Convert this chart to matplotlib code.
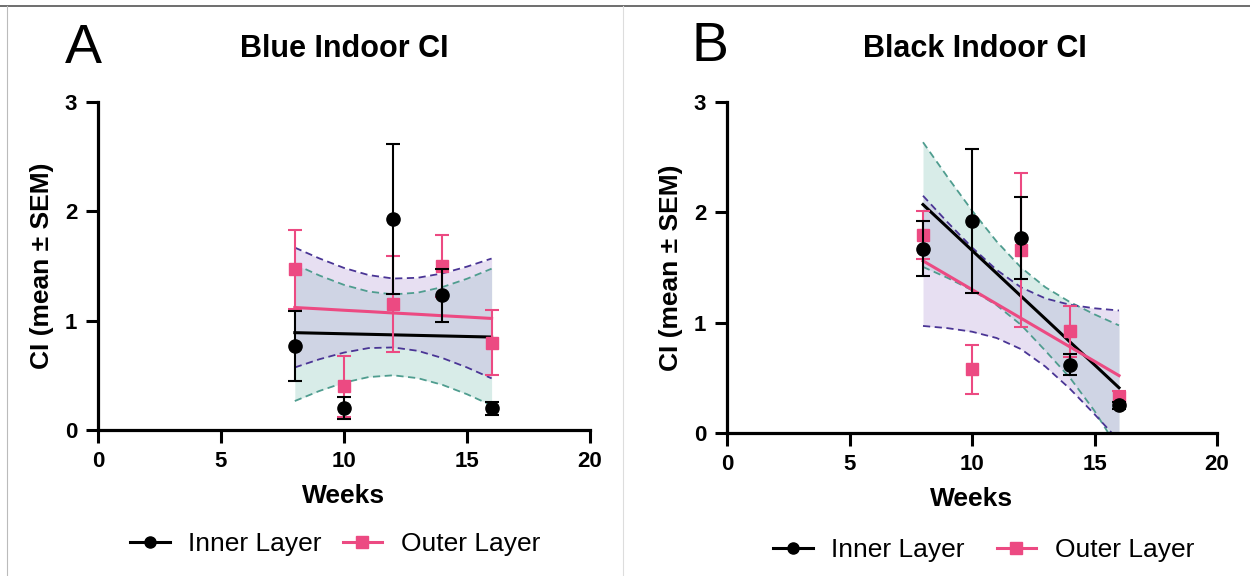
import numpy as np
import matplotlib
matplotlib.use('Agg')
import matplotlib.pyplot as plt
from matplotlib.lines import Line2D

# ---- data ----
weeks = [8, 10, 12, 14, 16]
fit_weeks = [8, 9, 10, 11, 12, 13, 14, 15, 16]

# panel A: Blue Indoor CI
blue_inner_mean = [0.77, 0.20, 1.93, 1.23, 0.20]
blue_inner_sem = [0.32, 0.10, 0.69, 0.24, 0.06]
blue_outer_mean = [1.47, 0.40, 1.15, 1.50, 0.80]
blue_outer_sem = [0.36, 0.28, 0.44, 0.28, 0.30]
blue_inner_fit = [0.89, 0.885, 0.88, 0.875, 0.87, 0.865, 0.86, 0.855, 0.85]
blue_inner_lo = [0.265, 0.357, 0.433, 0.484, 0.50, 0.474, 0.413, 0.327, 0.225]
blue_inner_hi = [1.515, 1.413, 1.327, 1.266, 1.24, 1.256, 1.307, 1.383, 1.475]
blue_outer_fit = [1.12, 1.108, 1.095, 1.083, 1.07, 1.058, 1.045, 1.033, 1.02]
blue_outer_lo = [0.572, 0.647, 0.708, 0.749, 0.755, 0.724, 0.658, 0.572, 0.472]
blue_outer_hi = [1.668, 1.569, 1.482, 1.417, 1.385, 1.392, 1.432, 1.494, 1.568]

# panel B: Black Indoor CI
black_inner_mean = [1.67, 1.92, 1.765, 0.62, 0.25]
black_inner_sem = [0.25, 0.65, 0.37, 0.095, 0.03]
black_outer_mean = [1.795, 0.577, 1.66, 0.92, 0.33]
black_outer_sem = [0.22, 0.22, 0.70, 0.23, 0.05]
black_inner_fit = [2.07, 1.863, 1.655, 1.448, 1.24, 1.033, 0.825, 0.618, 0.41]
black_inner_lo = [1.505, 1.406, 1.294, 1.159, 0.98, 0.744, 0.50, 0.20, -0.155]
black_inner_hi = [2.635, 2.32, 2.016, 1.737, 1.50, 1.32, 1.186, 1.075, 0.975]
black_outer_fit = [1.56, 1.43, 1.30, 1.17, 1.04, 0.91, 0.78, 0.65, 0.52]
black_outer_lo = [0.97, 0.95, 0.918, 0.861, 0.76, 0.601, 0.40, 0.17, -0.07]
black_outer_hi = [2.15, 1.91, 1.682, 1.479, 1.32, 1.219, 1.162, 1.13, 1.11]

panel_letters = ['A', 'B']
titles = ['Blue Indoor CI', 'Black Indoor CI']
series_labels = ['Inner Layer', 'Outer Layer']
x_ticks = [0, 5, 10, 15, 20]
y_ticks = [0, 1, 2, 3]

PINK = '#ec4a82'
TEAL = '#4f9d8f'
PURPLE = '#4a3595'
TEAL_FILL = '#9ed1c6'
PURPLE_FILL = '#c3b1e0'

plt.rcParams['font.family'] = ['Liberation Sans', 'DejaVu Sans']


def draw_panel(ax, inner, outer):
    (im, ise, ifit, ilo, ihi) = inner
    (om, ose, ofit, olo, ohi) = outer

    ax.fill_between(fit_weeks, ilo, ihi, color=TEAL_FILL, alpha=0.4, lw=0, zorder=1)
    ax.fill_between(fit_weeks, olo, ohi, color=PURPLE_FILL, alpha=0.4, lw=0, zorder=1)
    for lo, hi, c in [(ilo, ihi, TEAL), (olo, ohi, PURPLE)]:
        ax.plot(fit_weeks, lo, ls=(0, (4, 2.5)), color=c, lw=1.3, zorder=2)
        ax.plot(fit_weeks, hi, ls=(0, (4, 2.5)), color=c, lw=1.3, zorder=2)

    ax.plot(fit_weeks, ifit, color='black', lw=2.2, zorder=3)
    ax.plot(fit_weeks, ofit, color=PINK, lw=2.2, zorder=3)

    ax.errorbar(weeks, om, yerr=ose, fmt='s', color=PINK, ms=8.8, capsize=5,
                elinewidth=1.5, capthick=1.5, zorder=4)
    ax.errorbar(weeks, im, yerr=ise, fmt='o', color='black', ms=9.5, capsize=5,
                elinewidth=1.5, capthick=1.5, zorder=5)

    ax.set_xlim(0, 20)
    ax.set_ylim(0, 3)
    ax.set_xticks(x_ticks)
    ax.set_yticks(y_ticks)
    for s in ['top', 'right']:
        ax.spines[s].set_visible(False)
    for s in ['left', 'bottom']:
        ax.spines[s].set_linewidth(2.3)
    ax.tick_params(width=2.2, length=9, labelsize=16, pad=6)
    for lab in ax.get_xticklabels() + ax.get_yticklabels():
        lab.set_fontweight('bold')
    ax.set_xlabel('Weeks', fontsize=19, fontweight='bold', labelpad=9)
    ax.set_ylabel('CI (mean \u00b1 SEM)', fontsize=19, fontweight='bold', labelpad=8)


fig = plt.figure(figsize=(12.5, 5.76), dpi=100)
axA = fig.add_axes([0.0784, 0.2535, 0.3936, 0.5695])
axB = fig.add_axes([0.5816, 0.2483, 0.392, 0.5747])

draw_panel(axA,
           (blue_inner_mean, blue_inner_sem, blue_inner_fit, blue_inner_lo, blue_inner_hi),
           (blue_outer_mean, blue_outer_sem, blue_outer_fit, blue_outer_lo, blue_outer_hi))
draw_panel(axB,
           (black_inner_mean, black_inner_sem, black_inner_fit, black_inner_lo, black_inner_hi),
           (black_outer_mean, black_outer_sem, black_outer_fit, black_outer_lo, black_outer_hi))

# titles and panel letters
fig.text(0.275, 0.915, titles[0], fontsize=22, fontweight='bold', ha='center', va='center')
fig.text(0.780, 0.915, titles[1], fontsize=22, fontweight='bold', ha='center', va='center')
fig.text(0.067, 0.915, panel_letters[0], fontsize=40, ha='center', va='center')
fig.text(0.568, 0.918, panel_letters[1], fontsize=40, ha='center', va='center')

handles = [
    Line2D([], [], color='black', marker='o', ms=8, lw=2.2),
    Line2D([], [], color=PINK, marker='s', ms=8, lw=2.2),
]
fig.legend(handles, series_labels, loc='center', bbox_to_anchor=(0.268, 0.055),
           ncol=2, frameon=False, fontsize=19, handlelength=1.5, columnspacing=0.8,
           handletextpad=0.7)
fig.legend(handles, series_labels, loc='center', bbox_to_anchor=(0.787, 0.045),
           ncol=2, frameon=False, fontsize=19, handlelength=1.5, columnspacing=1.2,
           handletextpad=0.7)

# panel frame lines
fig.add_artist(Line2D([0, 1], [0.989, 0.989], color='#555555', lw=1.2))
fig.add_artist(Line2D([0.0056, 0.0056], [0, 0.989], color='#bbbbbb', lw=0.8))
fig.add_artist(Line2D([0.4985, 0.4985], [0, 0.989], color='#dddddd', lw=0.8))

fig.savefig('out.png', dpi=100)
